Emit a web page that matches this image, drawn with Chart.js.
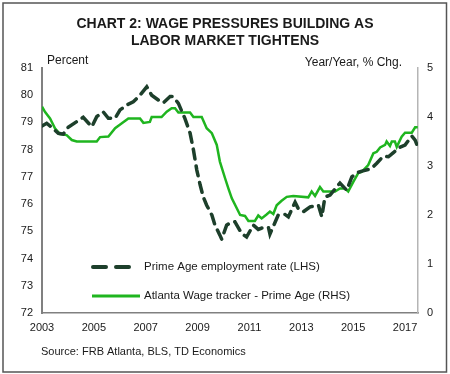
<!DOCTYPE html>
<html>
<head>
<meta charset="utf-8">
<script src="https://cdn.jsdelivr.net/npm/chart.js@4"></script>
<style>
    html, body { margin: 0; padding: 0; background: #fff; }
    #wrap { position: relative; width: 450px; height: 374px; }
</style>
</head>
<body>
<div id="wrap"><canvas id="chart" width="450" height="374"></canvas></div>
<script>
// Prime age employment rate (LHS)
const empYears = [2003.0, 2003.18, 2003.37, 2003.63, 2003.82, 2004.01, 2004.34, 2004.59, 2004.92, 2005.11,
    2005.36, 2005.56, 2005.82, 2006.01, 2006.27, 2006.52, 2006.78, 2007.04, 2007.23, 2007.49,
    2007.68, 2007.94, 2008.06, 2008.26, 2008.51, 2008.71, 2008.84, 2008.97, 2009.10, 2009.22,
    2009.35, 2009.55, 2009.67, 2009.86, 2009.93, 2010.12, 2010.32, 2010.44, 2010.70, 2010.89,
    2011.15, 2011.34, 2011.48, 2011.73, 2011.79, 2012.11, 2012.37, 2012.50, 2012.76, 2012.89,
    2013.08, 2013.34, 2013.66, 2013.79, 2013.91, 2014.11, 2014.37, 2014.49, 2014.75, 2014.95,
    2015.14, 2015.34, 2015.71, 2015.91, 2016.16, 2016.36, 2016.55, 2016.74, 2017.0, 2017.26,
    2017.39, 2017.45];
const empRate = [78.87, 78.97, 78.82, 78.60, 78.57, 78.82, 79.03, 79.19, 78.84, 79.21,
    79.39, 79.15, 79.15, 79.46, 79.64, 79.76, 80.00, 80.31, 80.00, 79.82,
    79.72, 79.95, 79.95, 79.70, 79.15, 78.61, 77.99, 77.25, 76.70, 76.26,
    75.96, 75.60, 75.23, 74.86, 74.71, 75.23, 75.34, 75.35, 74.92, 74.79,
    75.23, 75.07, 75.12, 75.15, 74.90, 75.60, 75.62, 75.53, 76.07, 75.82,
    75.72, 75.90, 75.96, 75.53, 76.26, 76.33, 76.64, 76.77, 76.51, 77.00,
    77.15, 77.21, 77.31, 77.50, 77.76, 77.74, 77.89, 78.06, 78.17, 78.50,
    78.35, 78.20];

// Atlanta Fed wage tracker, prime age (RHS)
const wageYears = [2003.0, 2003.12, 2003.31, 2003.5, 2003.69, 2003.95, 2004.15, 2004.34, 2005.11, 2005.24,
    2005.56, 2005.82, 2006.0, 2006.33, 2006.78, 2006.91, 2007.16, 2007.23, 2007.61, 2007.81,
    2008.0, 2008.13, 2008.26, 2008.71, 2008.84, 2009.16, 2009.35, 2009.55, 2009.74, 2009.86,
    2010.06, 2010.19, 2010.32, 2010.64, 2010.83, 2010.96, 2011.21, 2011.34, 2011.47, 2011.66,
    2011.79, 2011.92, 2012.05, 2012.24, 2012.44, 2012.69, 2013.27, 2013.40, 2013.53, 2013.72,
    2013.85, 2014.30, 2014.49, 2014.69, 2014.81, 2015.01, 2015.20, 2015.33, 2015.58, 2015.78,
    2015.91, 2016.04, 2016.23, 2016.29, 2016.42, 2016.49, 2016.61, 2016.68, 2016.87, 2017.0,
    2017.26, 2017.39, 2017.49];
const wageGrowth = [4.21, 4.10, 3.97, 3.77, 3.65, 3.63, 3.53, 3.50, 3.50, 3.59,
    3.60, 3.77, 3.84, 3.97, 3.97, 3.88, 3.90, 4.00, 4.00, 4.11,
    4.18, 4.18, 4.09, 4.09, 4.00, 4.00, 3.77, 3.67, 3.43, 3.09,
    2.75, 2.54, 2.34, 2.00, 1.98, 1.88, 1.88, 1.99, 1.93, 2.01,
    2.07, 2.02, 2.20, 2.29, 2.37, 2.39, 2.36, 2.48, 2.39, 2.57,
    2.48, 2.48, 2.54, 2.54, 2.48, 2.68, 2.86, 2.88, 3.02, 3.26,
    3.29, 3.38, 3.43, 3.50, 3.41, 3.50, 3.50, 3.39, 3.60, 3.68,
    3.68, 3.79, 3.79];

const xTicks = [2003, 2005, 2007, 2009, 2011, 2013, 2015, 2017];
const titleLines = ['CHART 2: WAGE PRESSURES BUILDING AS', 'LABOR MARKET TIGHTENS'];
const seriesNames = ['Prime Age employment rate (LHS)', 'Atlanta Wage tracker - Prime Age (RHS)'];

const dashColor = '#1d3f2b';
const greenColor = '#1fb51f';
const textColor = '#1a1a1a';
const fontFamily = '"Liberation Sans", Arial, sans-serif';

const toPoints = (xs, ys) => xs.map((x, i) => ({ x: x, y: ys[i] }));

// Title, axis captions, in-plot legend, source and frame
const decorations = {
    id: 'decorations',
    beforeDraw(chart) {
        const ctx = chart.ctx;
        ctx.save();
        ctx.fillStyle = '#fff';
        ctx.fillRect(0, 0, chart.width, chart.height);
        ctx.restore();
    },
    afterDraw(chart) {
        const ctx = chart.ctx;
        ctx.save();
        ctx.fillStyle = textColor;
        ctx.textBaseline = 'middle';

        ctx.font = 'bold 14px ' + fontFamily;
        ctx.textAlign = 'center';
        ctx.fillText(titleLines[0], 225, 24);
        ctx.fillText(titleLines[1], 225, 41);

        ctx.font = '12px ' + fontFamily;
        ctx.textAlign = 'left';
        ctx.fillText('Percent', 47, 61);
        ctx.textAlign = 'right';
        ctx.fillText('Year/Year, % Chg.', 402, 63);

        // legend
        ctx.lineCap = 'round';
        ctx.strokeStyle = dashColor;
        ctx.lineWidth = 4;
        ctx.setLineDash([13, 10]);
        ctx.beginPath();
        ctx.moveTo(93, 267);
        ctx.lineTo(130, 267);
        ctx.stroke();
        ctx.setLineDash([]);
        ctx.lineCap = 'butt';
        ctx.strokeStyle = greenColor;
        ctx.lineWidth = 3;
        ctx.beginPath();
        ctx.moveTo(92, 296);
        ctx.lineTo(140, 296);
        ctx.stroke();

        ctx.font = '11.5px ' + fontFamily;
        ctx.textAlign = 'left';
        ctx.fillText(seriesNames[0], 144, 267);
        ctx.fillText(seriesNames[1], 144, 296);

        ctx.font = '11px ' + fontFamily;
        ctx.fillText('Source: FRB Atlanta, BLS, TD Economics', 41, 352);

        // frame
        ctx.strokeStyle = '#555';
        ctx.lineWidth = 1.5;
        ctx.strokeRect(3, 3, 443.5, 369);
        ctx.restore();
    }
};

const tickFont = { family: fontFamily, size: 11 };

new Chart(document.getElementById('chart'), {
    type: 'line',
    data: {
        datasets: [{
            label: seriesNames[0],
            data: toPoints(empYears, empRate),
            yAxisID: 'y',
            borderColor: dashColor,
            borderWidth: 3.5,
            borderDash: [10, 7],
            borderCapStyle: 'round',
            pointRadius: 0,
            tension: 0
        }, {
            label: seriesNames[1],
            data: toPoints(wageYears, wageGrowth),
            yAxisID: 'y1',
            borderColor: greenColor,
            borderWidth: 2.5,
            pointRadius: 0,
            tension: 0
        }]
    },
    options: {
        responsive: false,
        animation: false,
        devicePixelRatio: 1,
        layout: { padding: { top: 68, left: 0, right: 0, bottom: 0 } },
        plugins: {
            legend: { display: false },
            title: { display: false },
            tooltip: { enabled: false }
        },
        scales: {
            x: {
                type: 'linear',
                min: 2003,
                max: 2017.5,
                grid: { display: false, drawTicks: false },
                border: { color: '#808080', width: 1.5 },
                afterBuildTicks: s => { s.ticks = xTicks.map(v => ({ value: v })); },
                afterFit: s => { s.height = 61; },
                ticks: {
                    font: tickFont,
                    color: textColor,
                    padding: 8,
                    maxRotation: 0,
                    autoSkip: false,
                    callback: v => String(v)
                }
            },
            y: {
                position: 'left',
                min: 72,
                max: 81,
                grid: { display: false, drawTicks: false },
                border: { color: '#808080', width: 2 },
                afterFit: s => { s.width = 42; },
                ticks: { stepSize: 1, font: tickFont, color: textColor, padding: 9 }
            },
            y1: {
                position: 'right',
                min: 0,
                max: 5,
                grid: { display: false, drawTicks: false },
                border: { color: '#b5b5b5', width: 1.5 },
                afterFit: s => { s.width = 32; },
                ticks: { stepSize: 1, font: tickFont, color: textColor, padding: 9 }
            }
        }
    },
    plugins: [decorations]
});
</script>
</body>
</html>
